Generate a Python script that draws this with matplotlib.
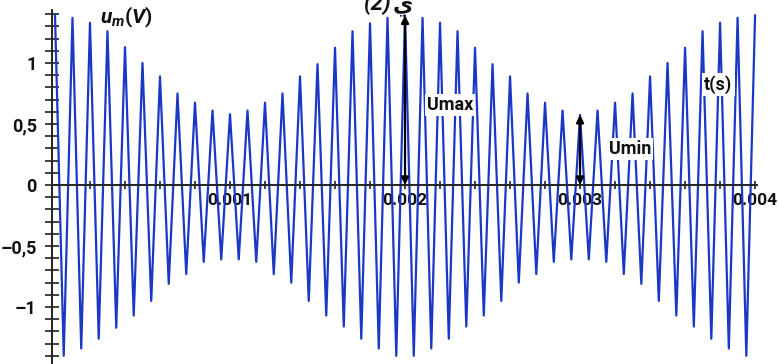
import numpy as np
import matplotlib.pyplot as plt

plt.rcParams['font.family'] = ['Roboto', 'DejaVu Sans']
plt.rcParams['mathtext.fontset'] = 'custom'
plt.rcParams['mathtext.it'] = 'Roboto:italic:bold'
plt.rcParams['mathtext.rm'] = 'Roboto:bold'

# peaks of the modulated signal (t in ms, u in V)
t_peak_ms = [0.0, 0.1, 0.2, 0.3, 0.4, 0.5, 0.6, 0.7, 0.8, 0.9,
             1.0, 1.1, 1.2, 1.3, 1.4, 1.5, 1.6, 1.7, 1.8, 1.9,
             2.0, 2.1, 2.2, 2.3, 2.4, 2.5, 2.6, 2.7, 2.8, 2.9,
             3.0, 3.1, 3.2, 3.3, 3.4, 3.5, 3.6, 3.7, 3.8, 3.9, 4.0]
u_peak = [1.40, 1.37, 1.33, 1.26, 1.13, 1.00, 0.89, 0.75, 0.675, 0.61,
          0.58, 0.61, 0.675, 0.75, 0.89, 0.99, 1.125, 1.26, 1.325, 1.37,
          1.39, 1.37, 1.33, 1.26, 1.125, 0.99, 0.89, 0.75, 0.675, 0.61,
          0.575, 0.61, 0.675, 0.75, 0.89, 1.00, 1.125, 1.26, 1.33, 1.37, 1.39]

# troughs
t_trough_ms = [0.05, 0.15, 0.25, 0.35, 0.45, 0.55, 0.65, 0.75, 0.85, 0.95,
               1.05, 1.15, 1.25, 1.35, 1.45, 1.55, 1.65, 1.75, 1.85, 1.95,
               2.05, 2.15, 2.25, 2.35, 2.45, 2.55, 2.65, 2.75, 2.85, 2.95,
               3.05, 3.15, 3.25, 3.35, 3.45, 3.55, 3.65, 3.75, 3.85, 3.95]
u_trough = [-1.40, -1.34, -1.26, -1.17, -1.07, -0.95, -0.81, -0.73, -0.63, -0.61,
            -0.61, -0.63, -0.73, -0.80, -0.95, -1.07, -1.16, -1.26, -1.34, -1.40,
            -1.40, -1.34, -1.26, -1.16, -1.07, -0.95, -0.80, -0.73, -0.63, -0.61,
            -0.61, -0.63, -0.73, -0.81, -0.95, -1.07, -1.16, -1.26, -1.34, -1.40]

x_ticks = [0.001, 0.002, 0.003, 0.004]
x_labels = ['0.001', '0.002', '0.003', '0.004']
y_ticks = [-1, -0.5, 0, 0.5, 1]
y_labels = ['\u20131', '\u20130,5', '0', '0,5', '1']

# interleave peaks and troughs -> zigzag
t = np.empty(len(t_peak_ms) + len(t_trough_ms))
u = np.empty_like(t)
t[0::2] = np.array(t_peak_ms) * 1e-3
t[1::2] = np.array(t_trough_ms) * 1e-3
u[0::2] = u_peak
u[1::2] = u_trough

fig = plt.figure(figsize=(7.79, 3.64), dpi=100)
ax = fig.add_axes([52 / 779, 0, 705 / 779, 354 / 364])
ax.set_xlim(-0.000017, 0.004011)
ax.set_ylim(-1.467, 1.434)

ax.plot(t, u, color='#1a38c4', lw=1.6, zorder=2)

for s in ['top', 'right']:
    ax.spines[s].set_visible(False)
ax.spines['bottom'].set_position(('data', 0))
for s in ['bottom', 'left']:
    ax.spines[s].set_linewidth(1.4)
    ax.spines[s].set_color('#222222')

ax.set_xticks(x_ticks)
ax.set_xticklabels(x_labels, fontsize=12.5, fontweight='bold', color='#111111')
ax.set_xticks(np.arange(0.0002, 0.0041, 0.0002), minor=True)
ax.tick_params(axis='x', which='both', direction='inout', length=6, width=1.2,
               pad=3, colors='#222222', labelcolor='#111111')

ax.set_yticks(y_ticks)
ax.set_yticklabels(y_labels, fontsize=13, fontweight='bold', color='#111111')
ax.set_yticks(np.arange(-1.4, 1.45, 0.1), minor=True)
ax.tick_params(axis='y', which='both', direction='inout', length=10, width=1.2,
               pad=6, colors='#222222', labelcolor='#111111')

# labels
ax.text(0.000257, 1.37, r'$u_m(V)$', fontsize=15,
        ha='left', va='center', color='#111111')
box = dict(facecolor='white', edgecolor='none', pad=1.5)
ax.text(0.00379, 0.82, 't(s)', fontsize=13, fontweight='bold', ha='center',
        va='center', bbox=box, zorder=3, color='#111111')
ax.text(0.002257, 0.656, 'Umax', fontsize=13, fontweight='bold', ha='center',
        va='center', bbox=box, zorder=3, color='#111111')
ax.text(0.003286, 0.295, 'Umin', fontsize=13, fontweight='bold', ha='center',
        va='center', bbox=box, zorder=3, color='#111111')

arrow = dict(arrowstyle='<|-|>', color='black', lw=1.6, mutation_scale=11,
             shrinkA=0, shrinkB=0)
ax.annotate('', xy=(0.002, 1.39), xytext=(0.002, 0), arrowprops=arrow, zorder=4)
ax.annotate('', xy=(0.003, 0.575), xytext=(0.003, 0), arrowprops=arrow, zorder=4)

# title cut at the top edge, as in the scan
fig.text(378 / 779, 1 - 10 / 364, '(2)', fontsize=16, fontweight='bold',
         fontstyle='italic', ha='center', va='baseline', color='#111111')
fig.text(403 / 779, 1 - 10 / 364, '\u064a', fontsize=16, fontweight='bold',
         ha='center', va='baseline', family=['DejaVu Sans'], color='#111111')

fig.savefig('out.png', dpi=100)
